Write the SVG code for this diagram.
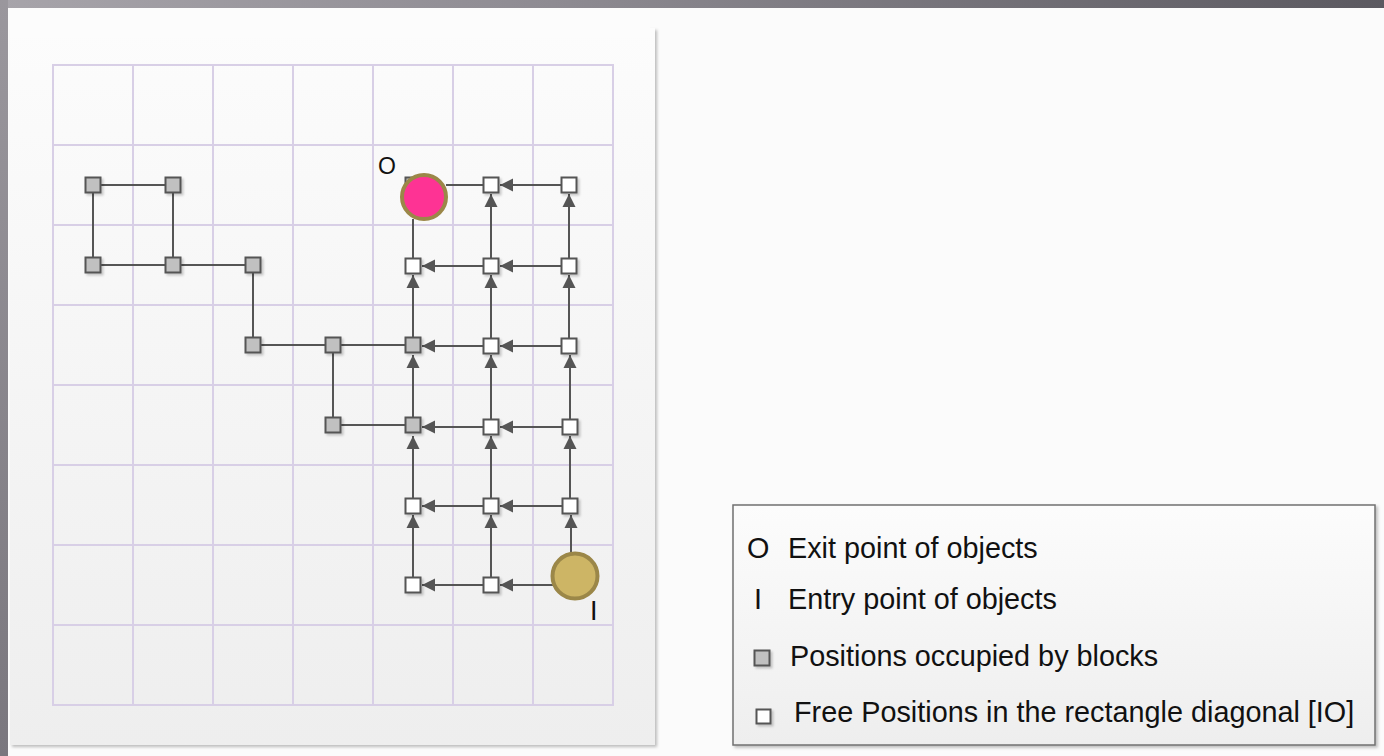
<svg xmlns="http://www.w3.org/2000/svg" width="1384" height="756" viewBox="0 0 1384 756">
<defs>
<linearGradient id="topband" x1="0" y1="0" x2="1" y2="0">
<stop offset="0" stop-color="#a7a4aa"/>
<stop offset="0.4" stop-color="#8e8b92"/>
<stop offset="1" stop-color="#5b5960"/>
</linearGradient>
<linearGradient id="leftband" x1="0" y1="0" x2="0" y2="1">
<stop offset="0" stop-color="#9a979d"/>
<stop offset="1" stop-color="#7a777e"/>
</linearGradient>
<linearGradient id="panel" x1="0" y1="0" x2="0" y2="1">
<stop offset="0" stop-color="#fcfcfc"/>
<stop offset="1" stop-color="#eeeeee"/>
</linearGradient>
<linearGradient id="legendbg" x1="0" y1="0" x2="0" y2="1">
<stop offset="0" stop-color="#fcfcfc"/>
<stop offset="1" stop-color="#eeeeee"/>
</linearGradient>
<filter id="sh" x="-30%" y="-30%" width="180%" height="180%">
<feDropShadow dx="2" dy="2" stdDeviation="1" flood-color="#000" flood-opacity="0.2"/>
</filter>
<filter id="psh" x="-5%" y="-5%" width="110%" height="110%">
<feDropShadow dx="2" dy="2" stdDeviation="1.5" flood-color="#000" flood-opacity="0.25"/>
</filter>
<marker id="arr" markerUnits="userSpaceOnUse" markerWidth="14" markerHeight="14" refX="13" refY="7" orient="auto">
<path d="M0,0.5 L13,7 L0,13.5 z" fill="#555"/>
</marker>
</defs>
<style>
.grid{stroke:#d8cfe6;stroke-width:2;fill:none}
.blk{fill:#c0c0c0;stroke:#555;stroke-width:2;filter:url(#sh)}
.free{fill:#ffffff;stroke:#555;stroke-width:2;filter:url(#sh)}
.ln{stroke:#555;stroke-width:2;fill:none}
.ar{stroke:#555;stroke-width:2;fill:none;marker-end:url(#arr)}
.txt{font-family:"Liberation Sans",Arial,sans-serif;fill:#111}
</style>
<rect x="0" y="0" width="1384" height="756" fill="#fbfbfb"/>
<rect x="0" y="0" width="1384" height="8" fill="url(#topband)"/>
<rect x="0" y="0" width="8" height="756" fill="url(#leftband)"/>
<rect x="10" y="28" width="645" height="717" fill="url(#panel)" filter="url(#psh)"/>
<rect x="10" y="8" width="640" height="30" fill="#fcfcfc"/>
<g id="grid">
<rect class="grid" x="53" y="65" width="560" height="640"/>
<path class="grid" d="M133,65V705M213,65V705M293,65V705M373,65V705M453,65V705M533,65V705M53,145H613M53,225H613M53,305H613M53,385H613M53,465H613M53,545H613M53,625H613"/>
</g>
<g id="connectors">
<path class="ln" d="M93,185H173M93,185V265M173,185V265M93,265H253M253,265V345M253,345H413M333,345V425M333,425H413"/>
<path class="ln" d="M491,185H446M413,266V219"/>
<line class="ar" x1="569" y1="185" x2="500" y2="185"/>
<line class="ar" x1="569" y1="266" x2="500" y2="266"/>
<line class="ar" x1="491" y1="266" x2="422" y2="266"/>
<line class="ar" x1="569" y1="346" x2="500" y2="346"/>
<line class="ar" x1="491" y1="346" x2="422" y2="346"/>
<line class="ar" x1="570" y1="427" x2="500" y2="427"/>
<line class="ar" x1="491" y1="427" x2="422" y2="427"/>
<line class="ar" x1="570" y1="506" x2="500" y2="506"/>
<line class="ar" x1="491" y1="506" x2="422" y2="506"/>
<line class="ar" x1="553" y1="585" x2="500" y2="585"/>
<line class="ar" x1="491" y1="585" x2="422" y2="585"/>
<line class="ar" x1="413" y1="585" x2="413" y2="515"/>
<line class="ar" x1="413" y1="506" x2="413" y2="436"/>
<line class="ar" x1="413" y1="427" x2="413" y2="355"/>
<line class="ar" x1="413" y1="346" x2="413" y2="275"/>
<line class="ar" x1="491" y1="585" x2="491" y2="515"/>
<line class="ar" x1="491" y1="506" x2="491" y2="436"/>
<line class="ar" x1="491" y1="427" x2="491" y2="355"/>
<line class="ar" x1="491" y1="346" x2="491" y2="275"/>
<line class="ar" x1="491" y1="266" x2="491" y2="194"/>
<line class="ar" x1="571" y1="553" x2="571" y2="515"/>
<line class="ar" x1="570" y1="506" x2="570" y2="436"/>
<line class="ar" x1="570" y1="427" x2="570" y2="355"/>
<line class="ar" x1="569" y1="346" x2="569" y2="275"/>
<line class="ar" x1="569" y1="266" x2="569" y2="194"/>
</g>
<g id="blocks">
<rect class="blk" x="85.5" y="177.5" width="15" height="15"/>
<rect class="blk" x="165.5" y="177.5" width="15" height="15"/>
<rect class="blk" x="85.5" y="257.5" width="15" height="15"/>
<rect class="blk" x="165.5" y="257.5" width="15" height="15"/>
<rect class="blk" x="245.5" y="257.5" width="15" height="15"/>
<rect class="blk" x="245.5" y="337.5" width="15" height="15"/>
<rect class="blk" x="325.5" y="337.5" width="15" height="15"/>
<rect class="blk" x="405.5" y="337.5" width="15" height="15"/>
<rect class="blk" x="325.5" y="417.5" width="15" height="15"/>
<rect class="blk" x="405.5" y="417.5" width="15" height="15"/>
<rect class="blk" x="405.5" y="177.5" width="15" height="15"/>
</g>
<g id="free">
<rect class="free" x="483.5" y="177.5" width="15" height="15"/>
<rect class="free" x="561.5" y="177.5" width="15" height="15"/>
<rect class="free" x="405.5" y="258.5" width="15" height="15"/>
<rect class="free" x="483.5" y="258.5" width="15" height="15"/>
<rect class="free" x="561.5" y="258.5" width="15" height="15"/>
<rect class="free" x="483.5" y="338.5" width="15" height="15"/>
<rect class="free" x="561.5" y="338.5" width="15" height="15"/>
<rect class="free" x="483.5" y="419.5" width="15" height="15"/>
<rect class="free" x="562.5" y="419.5" width="15" height="15"/>
<rect class="free" x="405.5" y="498.5" width="15" height="15"/>
<rect class="free" x="483.5" y="498.5" width="15" height="15"/>
<rect class="free" x="562.5" y="498.5" width="15" height="15"/>
<rect class="free" x="405.5" y="577.5" width="15" height="15"/>
<rect class="free" x="483.5" y="577.5" width="15" height="15"/>
</g>
<g id="exit">
<circle cx="424" cy="197" r="22" fill="#fe3394" stroke="#9b8748" stroke-width="4"/>
<text class="txt" x="378" y="174" font-size="23">O</text>
</g>
<g id="entry">
<circle cx="575" cy="576" r="22.5" fill="#cdb565" stroke="#9b8748" stroke-width="4"/>
<text class="txt" x="590" y="620" font-size="27">I</text>
</g>
<g id="legend">
<rect x="733" y="505" width="642" height="240" fill="url(#legendbg)" stroke="#707070" stroke-width="1.5" filter="url(#psh)"/>
<text class="txt" x="747" y="558" font-size="28.8">O</text>
<text class="txt" x="788" y="558" font-size="28.8">Exit point of objects</text>
<text class="txt" x="754" y="609" font-size="28.8">I</text>
<text class="txt" x="788" y="609" font-size="28.8">Entry point of objects</text>
<rect class="blk" x="754.5" y="650.5" width="15" height="15"/>
<text class="txt" x="790" y="666" font-size="28.8">Positions occupied by blocks</text>
<rect class="free" x="756.5" y="709.5" width="14" height="14"/>
<text class="txt" x="794" y="722" font-size="28.8">Free Positions in the rectangle diagonal [IO]</text>
</g>
</svg>
